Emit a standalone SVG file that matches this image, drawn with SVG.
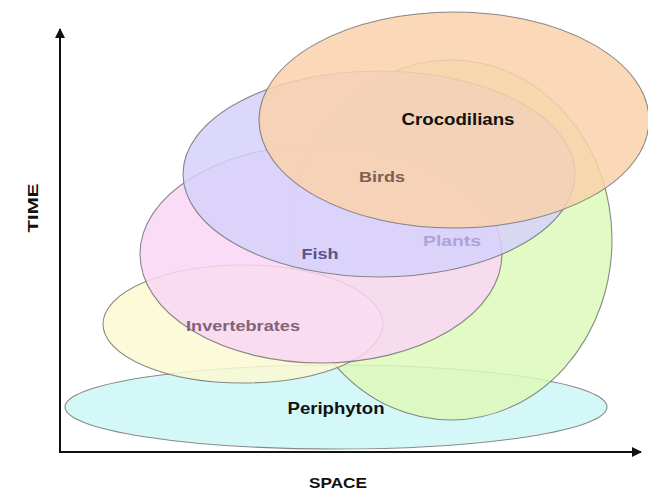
<svg xmlns="http://www.w3.org/2000/svg" width="648" height="490" viewBox="0 0 648 490">
  <style>
    .zone { stroke: #6e6e6e; stroke-width: 1.1; fill-opacity: 0.85; stroke-opacity: 0.8; }
    .lbl { font-family: "Liberation Sans", Arial, sans-serif; font-weight: bold; text-anchor: middle; }
    .axis { stroke: #111; stroke-width: 2; fill: none; }
  </style>
  <defs>
    <marker id="arrow" viewBox="0 0 10 10" refX="9" refY="5" markerWidth="5" markerHeight="5" orient="auto" markerUnits="strokeWidth">
      <path d="M0,0 L10,5 L0,10 z" fill="#111"/>
    </marker>
  </defs>
  <rect width="648" height="490" fill="#ffffff"/>

  <!-- habitat zones, back to front -->
  <g id="periphyton">
    <ellipse class="zone" cx="336" cy="407" rx="271" ry="42" fill="#ccf7f7"/>
  </g>
  <g id="plants">
    <ellipse class="zone" cx="451" cy="240" rx="161" ry="180" fill="#ddf9ba"/>
  </g>
  <g id="invertebrates">
    <ellipse class="zone" cx="243" cy="324" rx="140" ry="59" fill="#fbf9d1"/>
  </g>
  <g id="fish">
    <ellipse class="zone" cx="321" cy="254" rx="181" ry="109" fill="#f9d6f4"/>
  </g>
  <g id="birds">
    <ellipse class="zone" cx="379" cy="174" rx="196" ry="103" fill="#d6d1fb"/>
  </g>
  <g id="crocodilians">
    <ellipse class="zone" cx="454" cy="120" rx="195" ry="108" fill="#f9d1ab"/>
  </g>

  <!-- axes -->
  <g id="connectors">
    <line class="axis" x1="60" y1="452" x2="60" y2="29" marker-end="url(#arrow)"/>
    <line class="axis" x1="59" y1="452" x2="641" y2="452" marker-end="url(#arrow)"/>
  </g>

  <!-- labels -->
  <g id="labels">
    <text class="lbl" x="458" y="125" font-size="16" fill="#111" textLength="113" lengthAdjust="spacingAndGlyphs">Crocodilians</text>
    <text class="lbl" x="382" y="182" font-size="15" fill="#7c5e54" textLength="46" lengthAdjust="spacingAndGlyphs">Birds</text>
    <text class="lbl" x="452" y="246" font-size="14" fill="#aca4d8" textLength="58" lengthAdjust="spacingAndGlyphs">Plants</text>
    <text class="lbl" x="320" y="259" font-size="15" fill="#5a5288" textLength="37" lengthAdjust="spacingAndGlyphs">Fish</text>
    <text class="lbl" x="243" y="331" font-size="15" fill="#7e6478" textLength="114" lengthAdjust="spacingAndGlyphs">Invertebrates</text>
    <text class="lbl" x="336" y="414" font-size="16" fill="#111" textLength="97" lengthAdjust="spacingAndGlyphs">Periphyton</text>
    <text class="lbl" x="338" y="488" font-size="15" fill="#111" textLength="58" lengthAdjust="spacingAndGlyphs">SPACE</text>
    <text class="lbl" transform="translate(38,208) rotate(-90)" x="0" y="0" font-size="15" fill="#111" textLength="49" lengthAdjust="spacingAndGlyphs">TIME</text>
  </g>
</svg>
